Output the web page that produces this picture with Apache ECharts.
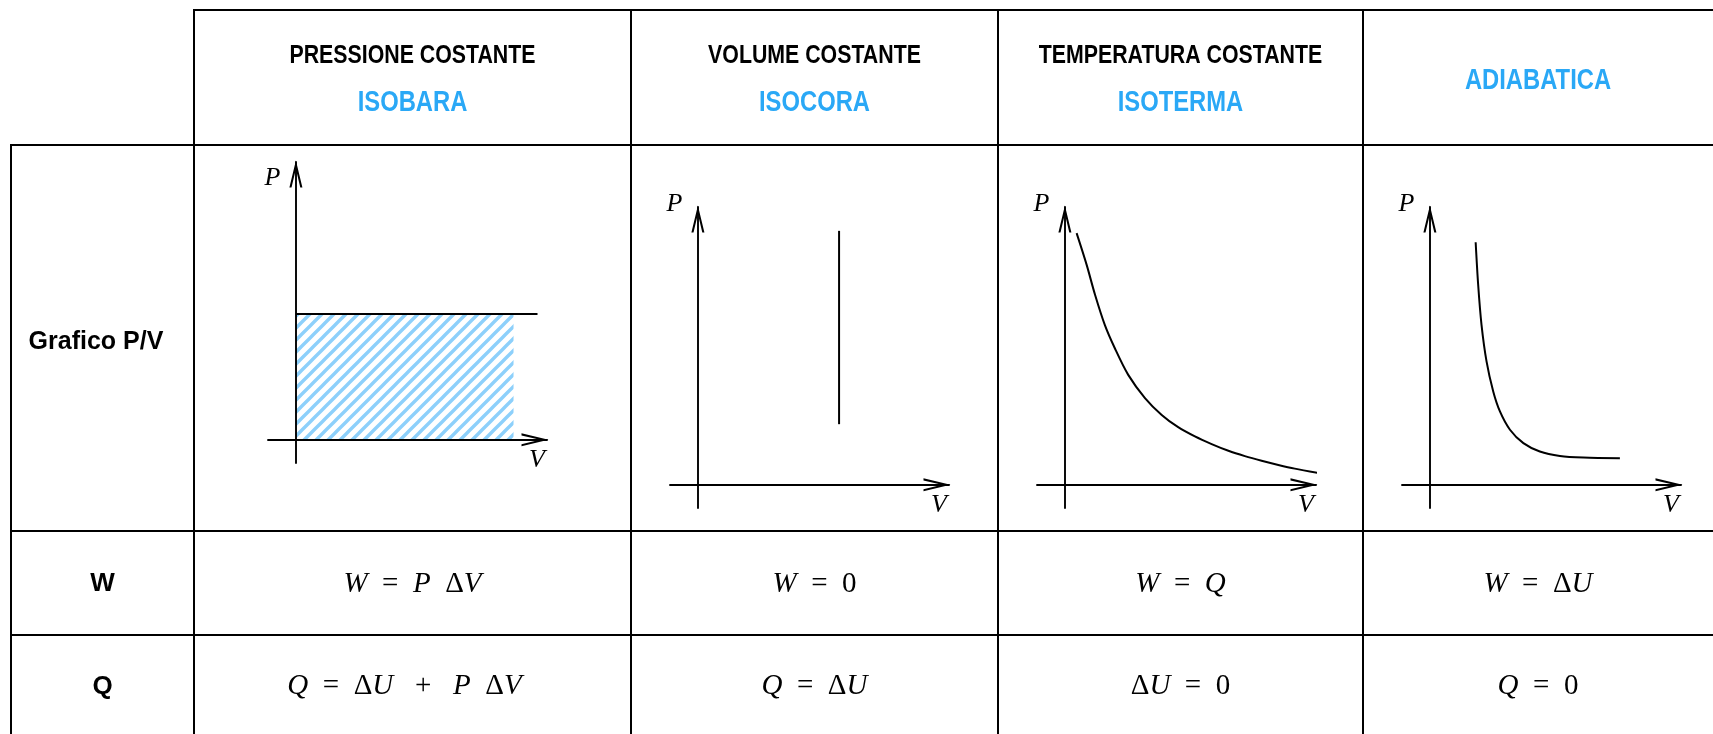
<!DOCTYPE html>
<html>
<head>
<meta charset="utf-8">
<title>Trasformazioni termodinamiche</title>
<script src="https://cdn.jsdelivr.net/npm/echarts@6/dist/echarts.min.js"></script>
<style>
  html, body { margin: 0; padding: 0; background: #fff; }
  #main { width: 1713px; height: 734px; }
</style>
</head>
<body>
<div id="main"></div>
<script>
// testi della tabella
const headers = ['PRESSIONE COSTANTE', 'VOLUME COSTANTE', 'TEMPERATURA COSTANTE', ''];
const processes = ['ISOBARA', 'ISOCORA', 'ISOTERMA', 'ADIABATICA'];
const rowLabels = ['Grafico P/V', 'W', 'Q'];
const workFormulas = ['W = P  ΔV', 'W = 0', 'W = Q', 'W = ΔU'];
const heatFormulas = ['Q = ΔU + P  ΔV', 'Q = ΔU', 'ΔU = 0', 'Q = 0'];

const isobaraLine = [[0, 5.44], [8.66, 5.44]];
const isobaraWork = [[0, 5.44], [7.8, 5.44]];
const isocoraLine = [[5.06, 2.62], [5.06, 10.97]];
const isotermaV = [0.42, 0.78, 1.08, 1.43, 1.79, 2.27, 2.87, 3.47, 4.06, 4.66, 5.26, 5.86, 6.45, 7.05, 7.65, 8.24, 9.08];
const isotermaP = [10.87, 9.5, 8.21, 6.91, 5.9, 4.75, 3.75, 3.02, 2.49, 2.09, 1.76, 1.47, 1.24, 1.04, 0.86, 0.7, 0.51];
const adiabaticaV = [1.64, 1.73, 1.85, 2.03, 2.27, 2.51, 2.87, 3.35, 3.94, 4.66, 5.5, 6.81];
const adiabaticaP = [10.48, 8.64, 6.91, 5.33, 4.03, 3.17, 2.38, 1.8, 1.44, 1.25, 1.18, 1.15];
const vRange = [-1, 9];
const pRange = [-1, 12];

// geometria della tabella (px)
const colX = [11, 194, 631, 998, 1363, 1713];
const rowY = [10, 145, 531, 635, 734];
const gridPos = [[268, 162], [670, 207], [1037, 207], [1402, 207]];
const gridW = 279, gridH = 301;

const BLUE = '#2aa8f6';
const chevron = 'path://M6.5,0 L13,27 L10.9,27 L6.5,8.5 L2.1,27 L0,27 Z';

function hatch(color) {
  const c = document.createElement('canvas');
  c.width = c.height = 12;
  const ctx = c.getContext('2d');
  ctx.strokeStyle = color;
  ctx.lineWidth = 3.4;
  ctx.beginPath();
  ctx.moveTo(-6, 6); ctx.lineTo(6, -6);
  ctx.moveTo(0, 12); ctx.lineTo(12, 0);
  ctx.moveTo(6, 18); ctx.lineTo(18, 6);
  ctx.stroke();
  return c;
}

// lettere in corsivo, simboli dritti
function formula(s) {
  s = s.replace(/ = /g, '  =  ').replace(/ \+ /g, '   +   ');
  let out = '', buf = '';
  for (const ch of s) {
    if (/[A-Z]/.test(ch)) {
      if (buf) { out += '{n|' + buf + '}'; buf = ''; }
      out += '{i|' + ch + '}';
    } else buf += ch;
  }
  if (buf) out += '{n|' + buf + '}';
  return out;
}

const mid = (a, b) => (a + b) / 2;
const graphic = [];

// linee della tabella
function hline(y, x1, x2) {
  graphic.push({ type: 'line', shape: { x1, y1: y, x2, y2: y }, style: { stroke: '#000', lineWidth: 2 } });
}
function vline(x, y1, y2) {
  graphic.push({ type: 'line', shape: { x1: x, y1, x2: x, y2 }, style: { stroke: '#000', lineWidth: 2 } });
}
hline(rowY[0], colX[1] - 1, colX[5]);
hline(rowY[1], colX[0] - 1, colX[5]);
hline(rowY[2], colX[0] - 1, colX[5]);
hline(rowY[3], colX[0] - 1, colX[5]);
vline(colX[0], rowY[1] - 1, rowY[4]);
for (let i = 1; i <= 4; i++) vline(colX[i], rowY[0] - 1, rowY[4]);

function sansText(text, x, y, size, color, sx) {
  graphic.push({
    type: 'text', x, y, scaleX: sx,
    style: { text, fontFamily: 'Liberation Sans', fontWeight: 'bold', fontSize: size, fill: color, align: 'center', verticalAlign: 'middle' }
  });
}

headers.forEach((h, i) => {
  const cx = mid(colX[i + 1], colX[i + 2]);
  if (h) {
    sansText(h, cx, 56, 26, '#000', 0.82);
    sansText(processes[i], cx, 103, 29, BLUE, 0.82);
  } else {
    sansText(processes[i], cx, 81, 29, BLUE, 0.82);
  }
});

const rowCenters = [342, mid(rowY[2], rowY[3]) + 1, mid(rowY[3], rowY[4]) + 2];
rowLabels.forEach((t, i) => sansText(t, i === 0 ? 96 : mid(colX[0], colX[1]), rowCenters[i], i === 0 ? 25 : 26, '#000', 1));

const rich = {
  i: { fontFamily: 'Liberation Serif', fontStyle: 'italic', fontSize: 29, fill: '#000' },
  n: { fontFamily: 'Liberation Serif', fontSize: 29, fill: '#000' }
};
[workFormulas, heatFormulas].forEach((row, r) => {
  row.forEach((f, i) => {
    graphic.push({
      type: 'text', x: mid(colX[i + 1], colX[i + 2]) - (r === 1 && i === 0 ? 8 : 0), y: rowCenters[r + 1],
      style: { text: formula(f), rich, align: 'center', verticalAlign: 'middle' }
    });
  });
});

// assi P/V
const grid = gridPos.map(p => ({ left: p[0], top: p[1], width: gridW, height: gridH }));
const axisLine = {
  onZero: true,
  symbol: ['none', chevron],
  symbolSize: [13, 27],
  symbolOffset: [0, -12],
  lineStyle: { color: '#000', width: 1.9 }
};
const nameStyle = { fontFamily: 'Liberation Serif', fontStyle: 'italic', fontSize: 26, color: '#000', align: 'center', verticalAlign: 'middle' };
const xAxis = grid.map((g, i) => ({
  type: 'value', gridIndex: i, min: vRange[0], max: vRange[1], z: 5,
  axisLine, axisTick: { show: false }, axisLabel: { show: false }, splitLine: { show: false }
}));
const yAxis = grid.map((g, i) => ({
  type: 'value', gridIndex: i, min: pRange[0], max: pRange[1], z: 5,
  axisLine, axisTick: { show: false }, axisLabel: { show: false }, splitLine: { show: false },
  name: 'P', nameLocation: 'end', nameGap: i === 0 ? -16 : 3, nameMoveOverlap: false,
  nameTextStyle: Object.assign({}, nameStyle, { padding: [0, 47, 0, 0] })
}));

const curve = { type: 'line', showSymbol: false, clip: false, lineStyle: { color: '#000', width: 2 }, silent: true };
const zip = (a, b) => a.map((v, k) => [v, b[k]]);

const series = [
  Object.assign({}, curve, {
    xAxisIndex: 0, yAxisIndex: 0, data: isobaraWork,
    lineStyle: { width: 0 },
    areaStyle: { color: { image: hatch('#8dd0fb'), repeat: 'repeat' }, opacity: 1 }
  }),
  Object.assign({}, curve, { xAxisIndex: 0, yAxisIndex: 0, data: isobaraLine }),
  Object.assign({}, curve, { xAxisIndex: 1, yAxisIndex: 1, data: isocoraLine }),
  Object.assign({}, curve, { xAxisIndex: 2, yAxisIndex: 2, data: zip(isotermaV, isotermaP), smooth: 0.3 }),
  Object.assign({}, curve, { xAxisIndex: 3, yAxisIndex: 3, data: zip(adiabaticaV, adiabaticaP), smooth: 0.3 })
];

const chart = echarts.init(document.getElementById('main'));
chart.setOption({
  animation: false,
  backgroundColor: '#fff',
  grid, xAxis, yAxis, series, graphic
});

// etichetta V sotto la freccia dell'asse orizzontale
grid.forEach((g, i) => {
  const pt = chart.convertToPixel({ xAxisIndex: i, yAxisIndex: i }, [vRange[1], 0]);
  graphic.push({
    type: 'text', x: pt[0] - 10, y: pt[1] + 20, z: 10,
    style: { text: 'V', fontFamily: 'Liberation Serif', fontStyle: 'italic', fontSize: 26, fill: '#000', align: 'center', verticalAlign: 'middle' }
  });
});
chart.setOption({ graphic });
</script>
</body>
</html>
